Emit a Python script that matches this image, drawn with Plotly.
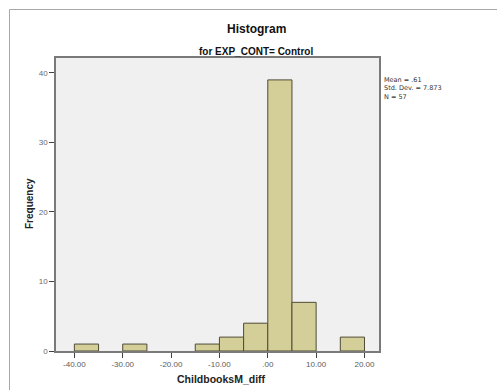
import plotly.graph_objects as go

# Histogram bins (width 5) and their frequencies
bin_starts = [-40, -30, -15, -10, -5, 0, 5, 15]
counts = [1, 1, 1, 2, 4, 39, 7, 2]
bin_width = 5

x_tick_vals = [-40, -30, -20, -10, 0, 10, 20]
x_tick_text = ["-40.00", "-30.00", "-20.00", "-10.00", ".00", "10.00", "20.00"]
y_tick_vals = [0, 10, 20, 30, 40]

stats_lines = ["Mean = .61", "Std. Dev. = 7.873", "N = 57"]

centers = [s + bin_width / 2 for s in bin_starts]

FONT = "Liberation Sans, Arial, sans-serif"

# plot area in pixels: x 56..379, y 58..351
def px_x(x):
    return (x - 56) / 323

def px_y(y):
    return (351 - y) / 293

fig = go.Figure()
fig.add_trace(go.Bar(
    x=centers,
    y=counts,
    width=[bin_width] * len(counts),
    marker=dict(color="#d4cf98", line=dict(color="#4f4c35", width=1)),
    showlegend=False,
    hoverinfo="x+y",
))

annotations = [
    dict(text="<b>Histogram</b>", xref="paper", yref="paper",
         x=px_x(256), y=px_y(29), showarrow=False,
         font=dict(size=12, color="#111111"), xanchor="center", yanchor="middle"),
    dict(text="<b>for EXP_CONT= Control</b>", xref="paper", yref="paper",
         x=px_x(256), y=px_y(51), showarrow=False,
         font=dict(size=10, color="#111111"), xanchor="center", yanchor="middle"),
    dict(text="<b>ChildbooksM_diff</b>", xref="paper", yref="paper",
         x=px_x(221), y=px_y(379), showarrow=False,
         font=dict(size=10.5, color="#222222"), xanchor="center", yanchor="middle"),
    dict(text="<b>Frequency</b>", xref="paper", yref="paper",
         x=px_x(29), y=px_y(204), showarrow=False, textangle=-90,
         font=dict(size=10, color="#222222"), xanchor="center", yanchor="middle"),
    dict(text="<br>".join(stats_lines), xref="paper", yref="paper",
         x=px_x(382), y=px_y(74), showarrow=False, align="left",
         font=dict(size=6.5, color="#333333", family="DejaVu Sans, sans-serif"),
         xanchor="left", yanchor="top"),
]

fig.update_layout(
    width=497, height=390,
    margin=dict(l=56, r=118, t=58, b=39, autoexpand=False),
    paper_bgcolor="white",
    plot_bgcolor="#f0f0f0",
    font=dict(family=FONT),
    xaxis=dict(
        range=[-43.8, 23.0],
        tickvals=x_tick_vals,
        ticktext=x_tick_text,
        ticks="outside", ticklen=5, tickcolor="#404040",
        tickfont=dict(size=8, color="#5a5a5a"),
        showline=True, linecolor="#7a7a7a", linewidth=1.5, mirror=True,
        showgrid=False, zeroline=False, automargin=False,
    ),
    yaxis=dict(
        range=[0, 42.15],
        tickvals=y_tick_vals,
        ticks="outside", ticklen=5, tickcolor="#404040",
        tickfont=dict(size=8, color="#6a6a6a"),
        showline=True, linecolor="#7a7a7a", linewidth=1.5, mirror=True,
        showgrid=False, zeroline=False, automargin=False,
    ),
    shapes=[dict(
        type="rect", xref="paper", yref="paper",
        x0=px_x(9.5), x1=1.6, y0=-0.3, y1=px_y(9.5),
        line=dict(color="#a8a8a8", width=1), layer="below",
    )],
    annotations=annotations,
)

fig.write_html("out.html")
